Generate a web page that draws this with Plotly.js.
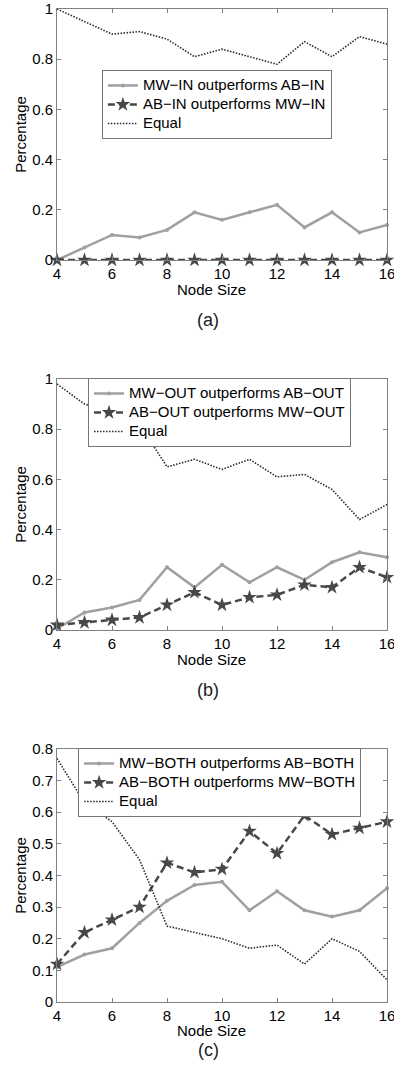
<!DOCTYPE html>
<html>
<head>
<meta charset="utf-8">
<script src="https://cdn.plot.ly/plotly-3.0.1.min.js"></script>
<style>html,body{margin:0;padding:0;background:#fff;}#chart{width:394px;height:1082px;}</style>
</head>
<body>
<div id="chart"></div>
<script>
// ---- data ----
var nodeSize = [4, 5, 6, 7, 8, 9, 10, 11, 12, 13, 14, 15, 16];

// (a) IN
var mwIn    = [0.00, 0.05, 0.10, 0.09, 0.12, 0.19, 0.16, 0.19, 0.22, 0.13, 0.19, 0.11, 0.14];
var abIn    = [0, 0, 0, 0, 0, 0, 0, 0, 0, 0, 0, 0, 0];
var equalIn = [1.00, 0.95, 0.90, 0.91, 0.88, 0.81, 0.84, 0.81, 0.78, 0.87, 0.81, 0.89, 0.86];

// (b) OUT
var mwOut    = [0.005, 0.07, 0.09, 0.12, 0.25, 0.17, 0.26, 0.19, 0.25, 0.20, 0.27, 0.31, 0.29];
var abOut    = [0.02, 0.03, 0.04, 0.05, 0.10, 0.15, 0.10, 0.13, 0.14, 0.18, 0.17, 0.25, 0.21];
var equalOut = [0.98, 0.90, 0.87, 0.82, 0.65, 0.68, 0.64, 0.68, 0.61, 0.62, 0.56, 0.44, 0.50];

// (c) BOTH
var mwBoth    = [0.11, 0.15, 0.17, 0.25, 0.32, 0.37, 0.38, 0.29, 0.35, 0.29, 0.27, 0.29, 0.36];
var abBoth    = [0.12, 0.22, 0.26, 0.30, 0.44, 0.41, 0.42, 0.54, 0.47, 0.59, 0.53, 0.55, 0.57];
var equalBoth = [0.77, 0.63, 0.57, 0.45, 0.24, 0.22, 0.20, 0.17, 0.18, 0.12, 0.20, 0.16, 0.07];

var namesA = ["MW\u2212IN outperforms AB\u2212IN", "AB\u2212IN outperforms MW\u2212IN", "Equal"];
var namesB = ["MW\u2212OUT outperforms AB\u2212OUT", "AB\u2212OUT outperforms MW\u2212OUT", "Equal"];
var namesC = ["MW\u2212BOTH outperforms AB\u2212BOTH", "AB\u2212BOTH outperforms MW\u2212BOTH", "Equal"];
var captions = ["(a)", "(b)", "(c)"];
var xTitle = "Node Size";
var yTitle = "Percentage";

// ---- styles ----
var FONT = "Liberation Sans, Arial, Helvetica, sans-serif";
var MWCOL = "#a0a0a0", ABCOL = "#484848", EQCOL = "#2a2a2a";

function lbl(s) { return '<span style="font-size:15px">' + s + '</span>'; }

function mk(x, y, name, kind, ax, leg) {
  var t = {x: x, y: y, name: lbl(name), type: "scatter", mode: "lines", xaxis: "x" + ax, yaxis: "y" + ax,
           legend: leg, cliponaxis: false, hoverinfo: "x+y"};
  if (kind === "mw") {
    t.mode = "lines+markers";
    t.line = {color: MWCOL, width: 2.5};
    t.marker = {symbol: "circle", size: 4, color: MWCOL};
  } else if (kind === "ab") {
    t.mode = "lines+markers";
    t.line = {color: ABCOL, width: 2.5, dash: "7px,4px"};
    t.marker = {symbol: "star", size: 11, color: ABCOL, line: {width: 0}};
  } else {
    t.line = {color: EQCOL, width: 1.6, dash: "1.5px,1.5px"};
  }
  return t;
}

var data = [
  mk(nodeSize, mwIn, namesA[0], "mw", "", "legend"),
  mk(nodeSize, abIn, namesA[1], "ab", "", "legend"),
  mk(nodeSize, equalIn, namesA[2], "eq", "", "legend"),
  mk(nodeSize, mwOut, namesB[0], "mw", "2", "legend2"),
  mk(nodeSize, abOut, namesB[1], "ab", "2", "legend2"),
  mk(nodeSize, equalOut, namesB[2], "eq", "2", "legend2"),
  mk(nodeSize, mwBoth, namesC[0], "mw", "3", "legend3"),
  mk(nodeSize, abBoth, namesC[1], "ab", "3", "legend3"),
  mk(nodeSize, equalBoth, namesC[2], "eq", "3", "legend3")
];

function xax(anchor) {
  return {range: [4, 16], tick0: 4, dtick: 2, ticks: "inside", ticklen: 4, tickcolor: "#808080",
          showline: true, linecolor: "#808080", linewidth: 1, mirror: "ticks", showgrid: false,
          zeroline: false, anchor: anchor, ticklabeloverflow: "allow",
          tickfont: {size: 15, color: "#000", family: FONT}};
}
function yax(anchor, domain, top, dt) {
  return {range: [0, top], dtick: dt, tick0: 0, ticks: "inside", ticklen: 4, tickcolor: "#808080",
          showline: true, linecolor: "#808080", linewidth: 1, mirror: "ticks", showgrid: false,
          zeroline: false, anchor: anchor, domain: domain, ticklabeloverflow: "allow",
          tickfont: {size: 15, color: "#000", family: FONT},
          title: {text: yTitle, font: {size: 15, color: "#000", family: FONT}, standoff: 1}};
}

function legendAt(x, y) {
  return {x: x, y: y, xanchor: "left", yanchor: "top", bgcolor: "#fff", bordercolor: "#777",
          borderwidth: 1, font: {size: 12.3, color: "#000", family: FONT}, itemwidth: 30, tracegroupgap: 0};
}

var ann = [];
var nsY = [0.7180, 0.3454, -0.0292];
var capY = [0.6868, 0.3142, -0.0483];
for (var i = 0; i < 3; i++) {
  ann.push({text: xTitle, xref: "paper", yref: "paper", x: 0.467, y: nsY[i], xanchor: "center",
            yanchor: "middle", showarrow: false, borderpad: 0, font: {size: 15, color: "#000", family: FONT}});
  ann.push({text: captions[i], xref: "paper", yref: "paper", x: 0.458, y: capY[i], xanchor: "center",
            yanchor: "middle", showarrow: false, font: {size: 18, color: "#222", family: FONT}});
}

var layout = {
  width: 394, height: 1082,
  margin: {l: 57, r: 7, t: 9, b: 80},
  paper_bgcolor: "#fff", plot_bgcolor: "#fff",
  font: {family: FONT, color: "#000"},
  showlegend: true,
  xaxis: xax("y"), yaxis: yax("x", [0.7472, 1.0], 1, 0.2),
  xaxis2: xax("y2"), yaxis2: yax("x2", [0.3746, 0.6274], 1, 0.2),
  xaxis3: xax("y3"), yaxis3: yax("x3", [0, 0.2548], 0.8, 0.1),
  legend: legendAt(0.136, 0.9386),
  legend2: legendAt(0.094, 0.6284),
  legend3: legendAt(0.064, 0.2558),
  annotations: ann
};

Plotly.newPlot("chart", data, layout, {displayModeBar: false, staticPlot: true});
</script>
</body>
</html>
